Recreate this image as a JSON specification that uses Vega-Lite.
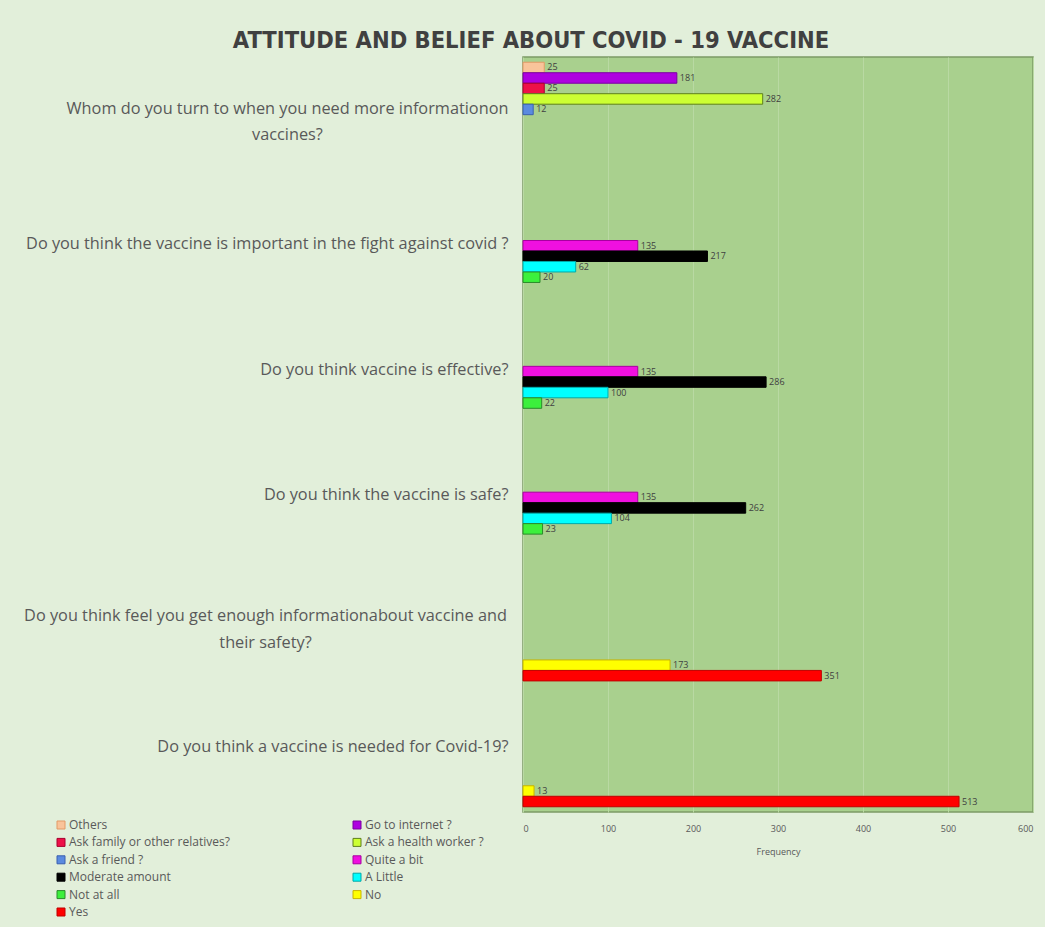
{
  "$schema": "https://vega.github.io/schema/vega-lite/v6.json",
  "width": 510,
  "height": 755,
  "autosize": {"type": "none"},
  "padding": {"left": 523, "top": 57, "right": 12, "bottom": 115},
  "background": "#E2EFDA",
  "title": {
    "text": "ATTITUDE AND BELIEF ABOUT COVID - 19 VACCINE",
    "font": "Liberation Sans Narrow, DejaVu Sans Condensed, Liberation Sans",
    "fontSize": 23.5,
    "fontWeight": "bold",
    "color": "#404040",
    "anchor": "middle",
    "frame": "group",
    "dx": -247,
    "baseline": "alphabetic",
    "offset": -14
  },
  "data": {
    "values": [
      {"question": "Whom do you turn to when you need more informationon vaccines?", "answer": "Others", "count": 25},
      {"question": "Whom do you turn to when you need more informationon vaccines?", "answer": "Go to internet ?", "count": 181},
      {"question": "Whom do you turn to when you need more informationon vaccines?", "answer": "Ask family or other relatives?", "count": 25},
      {"question": "Whom do you turn to when you need more informationon vaccines?", "answer": "Ask a health worker ?", "count": 282},
      {"question": "Whom do you turn to when you need more informationon vaccines?", "answer": "Ask a friend ?", "count": 12},
      {"question": "Do you think the vaccine is important in the fight against covid ?", "answer": "Quite a bit", "count": 135},
      {"question": "Do you think the vaccine is important in the fight against covid ?", "answer": "Moderate amount", "count": 217},
      {"question": "Do you think the vaccine is important in the fight against covid ?", "answer": "A Little", "count": 62},
      {"question": "Do you think the vaccine is important in the fight against covid ?", "answer": "Not at all", "count": 20},
      {"question": "Do you think vaccine is effective?", "answer": "Quite a bit", "count": 135},
      {"question": "Do you think vaccine is effective?", "answer": "Moderate amount", "count": 286},
      {"question": "Do you think vaccine is effective?", "answer": "A Little", "count": 100},
      {"question": "Do you think vaccine is effective?", "answer": "Not at all", "count": 22},
      {"question": "Do you think the vaccine is safe?", "answer": "Quite a bit", "count": 135},
      {"question": "Do you think the vaccine is safe?", "answer": "Moderate amount", "count": 262},
      {"question": "Do you think the vaccine is safe?", "answer": "A Little", "count": 104},
      {"question": "Do you think the vaccine is safe?", "answer": "Not at all", "count": 23},
      {"question": "Do you think feel you get enough informationabout vaccine and their safety?", "answer": "No", "count": 173},
      {"question": "Do you think feel you get enough informationabout vaccine and their safety?", "answer": "Yes", "count": 351},
      {"question": "Do you think a vaccine is needed for Covid-19?", "answer": "No", "count": 13},
      {"question": "Do you think a vaccine is needed for Covid-19?", "answer": "Yes", "count": 513}
    ]
  },
  "encoding": {
    "y": {
      "field": "question",
      "type": "nominal",
      "sort": [
        "Whom do you turn to when you need more informationon vaccines?",
        "Do you think the vaccine is important in the fight against covid ?",
        "Do you think vaccine is effective?",
        "Do you think the vaccine is safe?",
        "Do you think feel you get enough informationabout vaccine and their safety?",
        "Do you think a vaccine is needed for Covid-19?"
      ],
      "scale": {"paddingInner": 0.0833, "paddingOuter": 0.0417},
      "axis": {
        "title": null,
        "ticks": false,
        "domain": false,
        "labelFont": "Open Sans",
        "labelFontSize": 16.3,
        "labelColor": "#595959",
        "labelLimit": 700,
        "labelLineHeight": 26.5,
        "labelExpr": "datum.value == 'Whom do you turn to when you need more informationon vaccines?' ? ['Whom do you turn to when you need more informationon', 'vaccines?'] : datum.value == 'Do you think feel you get enough informationabout vaccine and their safety?' ? ['Do you think feel you get enough informationabout vaccine and', 'their safety?'] : datum.label",
        "labelAlign": {
          "condition": {
            "test": "datum.value == 'Whom do you turn to when you need more informationon vaccines?' || datum.value == 'Do you think feel you get enough informationabout vaccine and their safety?'",
            "value": "center"
          },
          "value": "right"
        },
        "labelPadding": {
          "condition": [
            {"test": "datum.value == 'Whom do you turn to when you need more informationon vaccines?'", "value": 236},
            {"test": "datum.value == 'Do you think feel you get enough informationabout vaccine and their safety?'", "value": 258}
          ],
          "value": 15
        },
        "labelOffset": {
          "condition": [
            {"test": "datum.value == 'Whom do you turn to when you need more informationon vaccines?'", "value": -11},
            {"test": "datum.value == 'Do you think feel you get enough informationabout vaccine and their safety?'", "value": -7}
          ],
          "value": -2
        }
      }
    },
    "yOffset": {
      "field": "answer",
      "type": "nominal",
      "sort": ["Others", "Go to internet ?", "Ask family or other relatives?", "Ask a health worker ?", "Ask a friend ?", "Quite a bit", "Moderate amount", "A Little", "Not at all", "No", "Yes"],
      "scale": {
        "domain": ["Others", "Go to internet ?", "Ask family or other relatives?", "Ask a health worker ?", "Ask a friend ?", "Quite a bit", "Moderate amount", "A Little", "Not at all", "No", "Yes"],
        "paddingInner": 0,
        "paddingOuter": 0
      }
    },
    "x": {
      "field": "count",
      "type": "quantitative",
      "scale": {"domain": [0, 600], "nice": false},
      "axis": {
        "values": [0, 100, 200, 300, 400, 500, 600],
        "title": "Frequency",
        "titleFont": "Open Sans",
        "titleFontSize": 9,
        "titleFontWeight": "normal",
        "titleColor": "#595959",
        "titlePadding": 14,
        "labelFont": "Open Sans",
        "labelFontSize": 9,
        "labelColor": "#595959",
        "labelPadding": 12,
        "ticks": false,
        "domain": false,
        "grid": true,
        "gridColor": "#B9D9A3",
        "gridWidth": 1
      }
    }
  },
  "layer": [
    {
      "mark": {"type": "bar", "strokeWidth": 1},
      "encoding": {
        "fill": {
          "field": "answer",
          "type": "nominal",
          "scale": {
            "domain": ["Others", "Go to internet ?", "Ask family or other relatives?", "Ask a health worker ?", "Ask a friend ?", "Quite a bit", "Moderate amount", "A Little", "Not at all", "No", "Yes"],
            "range": ["#F9C49A", "#AE00E0", "#EE1148", "#CCFF33", "#5B8BE0", "#F010E0", "#000000", "#00FFFF", "#3CF03C", "#FFFF00", "#FF0000"]
          },
          "legend": {
            "title": null,
            "orient": "none",
            "legendX": -468,
            "legendY": 762,
            "columns": 2,
            "columnPadding": 121,
            "rowPadding": 5.4,
            "values": ["Others", "Ask family or other relatives?", "Ask a friend ?", "Moderate amount", "Not at all", "Yes", "Go to internet ?", "Ask a health worker ?", "Quite a bit", "A Little", "No"],
            "symbolType": "square",
            "symbolSize": 64,
            "symbolStrokeWidth": 1,
            "labelFont": "Open Sans",
            "labelFontSize": 12,
            "labelColor": "#595959",
            "labelLimit": 300,
            "labelOffset": 2
          }
        },
        "stroke": {
          "field": "answer",
          "type": "nominal",
          "scale": {
            "domain": ["Others", "Go to internet ?", "Ask family or other relatives?", "Ask a health worker ?", "Ask a friend ?", "Quite a bit", "Moderate amount", "A Little", "Not at all", "No", "Yes"],
            "range": ["#E39A66", "#7A00A0", "#A8002E", "#5E7F1E", "#3A60B0", "#A800A0", "#000000", "#00A8A8", "#2A8A2A", "#C8B400", "#C00000"]
          },
          "legend": {
            "title": null,
            "orient": "none",
            "legendX": -468,
            "legendY": 762,
            "columns": 2,
            "columnPadding": 121,
            "rowPadding": 5.4,
            "values": ["Others", "Ask family or other relatives?", "Ask a friend ?", "Moderate amount", "Not at all", "Yes", "Go to internet ?", "Ask a health worker ?", "Quite a bit", "A Little", "No"],
            "symbolType": "square",
            "symbolSize": 64,
            "symbolStrokeWidth": 1,
            "labelFont": "Open Sans",
            "labelFontSize": 12,
            "labelColor": "#595959",
            "labelLimit": 300,
            "labelOffset": 2
          }
        }
      }
    },
    {
      "mark": {"type": "text", "align": "left", "baseline": "middle", "dx": 3, "font": "Open Sans", "fontSize": 9, "color": "#404040"},
      "encoding": {
        "text": {"field": "count", "type": "quantitative"}
      }
    }
  ],
  "config": {
    "view": {"fill": "#A9D08E", "stroke": "#7C9B66", "strokeWidth": 1.5}
  }
}
